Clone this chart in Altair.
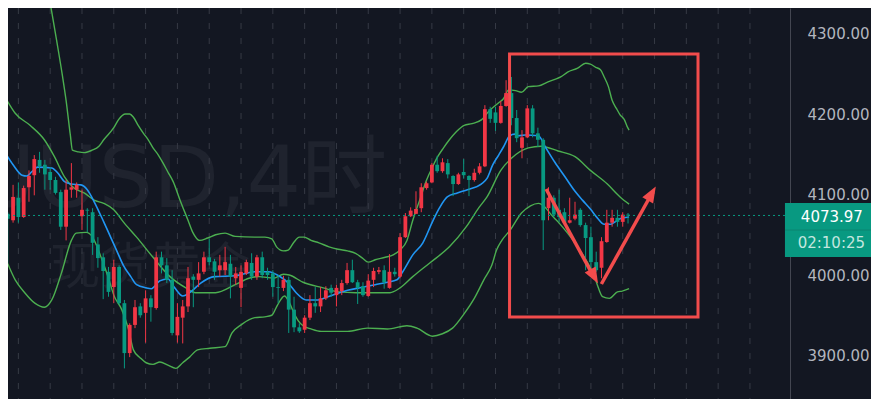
import altair as alt
import pandas as pd

# ---------------- data ----------------
opens = [4076,4068,4096,4072,4109,4124,4143,4137,4128,4118,
         4103,4060,4106,4106,4073,4081,4078,4038,4022,4004,
         3985,4010,3965,3903,3938,3961,3953,3971,3959,4022,
         4012,3994,3925,3947,3961,3998,3994,4004,4022,4017,
         4006,4006,4014,3996,3984,4002,4015,3998,4022,4004,
         4002,3985,3984,3994,3957,3935,3932,3947,3965,3961,
         3971,3984,3975,3980,3990,4006,3991,3986,3974,3994,
         4004,4006,3984,4004,3998,4047,4073,4076,4083,4108,
         4115,4137,4129,4139,4123,4113,4128,4123,4118,4127,
         4135,4206,4202,4189,4210,4226,4195,4158,4171,4207,
         4176,4168,4083,4096,4081,4078,4065,4070,4081,4062,
         4047,4016,4009,4041,4065,4071,4066,4075]
highs = [4078,4112,4115,4111,4130,4149,4153,4143,4134,4122,
         4106,4118,4139,4115,4106,4083,4083,4047,4027,4010,
         4019,4012,3969,3940,3969,3965,3981,3975,4029,4029,
         4021,4006,3965,3969,4010,4001,4016,4029,4045,4020,
         4025,4035,4025,4010,4012,4019,4027,4025,4029,4009,
         4006,4000,3999,3998,3973,3940,3950,3975,3985,3985,
         3986,3988,3988,3994,4015,4019,3994,3991,4001,4009,
         4010,4012,4026,4009,4052,4077,4084,4104,4114,4116,
         4139,4148,4145,4144,4124,4127,4144,4124,4132,4139,
         4211,4209,4209,4216,4242,4246,4205,4180,4211,4211,
         4183,4170,4109,4099,4106,4083,4096,4091,4083,4065,
         4060,4029,4047,4081,4081,4081,4078,4077]
lows = [4015,4065,4065,4071,4091,4099,4127,4106,4106,4100,
        4056,4043,4096,4096,4056,4053,4025,4009,3970,3973,
        3965,3963,3884,3898,3934,3947,3916,3942,3957,4002,
        3990,3925,3916,3915,3954,3960,3985,4001,4012,3994,
        3998,4000,3971,3988,3960,4000,3994,3994,3996,3994,
        3973,3965,3980,3928,3929,3928,3928,3944,3953,3954,
        3969,3973,3961,3975,3988,3990,3964,3973,3973,3985,
        4001,3983,3983,3998,3996,4046,4072,4076,4078,4106,
        4114,4127,4127,4120,4098,4112,4120,4098,4116,4125,
        4134,4189,4179,4188,4209,4186,4165,4145,4170,4171,
        4159,4031,4068,4072,4066,4062,4064,4068,4060,4006,
        4002,4004,3996,4040,4060,4060,4060,4064]
closes = [4070,4097,4072,4108,4123,4144,4135,4125,4118,4102,
          4060,4106,4109,4112,4081,4080,4040,4021,4005,3979,
          4010,3965,3903,3938,3960,3950,3971,3960,4022,4012,
          3994,3928,3948,3961,3996,3994,4002,4022,4016,4004,
          4012,4016,3998,4002,4004,4016,3998,4022,4000,4000,
          3985,3984,3994,3957,3935,3930,3947,3965,3961,3971,
          3981,3978,3984,3990,4006,3991,3984,3975,3993,4005,
          4006,3991,4004,4001,4047,4073,4080,4082,4109,4114,
          4137,4129,4140,4125,4113,4125,4124,4118,4127,4135,
          4206,4194,4189,4210,4226,4195,4170,4171,4207,4176,
          4168,4068,4096,4075,4072,4065,4068,4075,4062,4046,
          4016,4006,4042,4065,4071,4066,4075,4073.97]

# Bollinger bands (green) and moving average (blue): (bar index, price)
upper_i = [6.9,7.9,9.2,10.3,11.0,11.8,12.2,13.3,14.4,15.9,17.2,18.1,20.0,20.9,22.2,23.0,23.7,24.6,25.6,26.5,
           27.4,28.4,29.3,30.2,31.2,32.5,34.0,34.9,36.2,37.7,39.2,41.0,42.9,46.6,48.5,49.8,50.7,52.0,52.9,53.9,
           55.0,55.9,57.2,58.7,60.6,62.3,64.1,65.6,66.9,68.0,69.3,71.2,72.7,74.0,75.3,76.4,77.7,79.0,80.1,81.1,
           82.2,83.3,84.6,86.1,87.6,89.4,90.7,92.6,93.5,94.5,95.8,96.9,98.2,100.1,101.9,103.2,104.3,105.6,107.5,109.0,
           109.9,110.9,111.8,112.5,113.3,114.0,114.8,115.5,116.3,116.8,117.2]
upper_p = [4379,4342,4292,4248,4217,4174,4155,4153,4152,4155,4160,4168,4183,4193,4200,4200,4196,4186,4176,4168,
           4158,4149,4139,4128,4116,4093,4068,4053,4043,4046,4050,4052,4048,4047,4047,4045,4035,4030,4031,4040,
           4047,4047,4043,4040,4035,4032,4030,4027,4021,4016,4019,4022,4025,4031,4043,4068,4093,4118,4134,4147,
           4158,4168,4178,4186,4188,4193,4203,4214,4219,4230,4229,4227,4234,4235,4240,4243,4246,4252,4257,4263,
           4262,4258,4255,4246,4234,4217,4207,4199,4193,4185,4180]
mid_i = [-0.5,1.4,4.2,6.9,8.8,10.7,12.5,14.4,16.3,18.1,20.0,21.8,24.3,27.4,30.6,33.6,35.4,39.2,42.9,45.5,
         47.4,50.2,52.0,53.1,55.7,59.5,62.4,65.6,68.8,72.1,74.0,76.4,79.6,83.3,86.5,88.9,90.4,93.0,95.0,98.2,
         100.6,103.8,107.0,109.9,113.1,115.5,117.2]
mid_p = [4221,4201,4186,4168,4147,4122,4108,4102,4093,4089,4081,4066,4047,4022,3998,3984,3978,3978,3988,3996,
         3998,3996,4001,4000,3991,3984,3979,3978,3978,3978,3984,3998,4015,4035,4060,4084,4097,4130,4145,4158,
         4160,4154,4147,4130,4113,4097,4088]
low_i = [-0.5,1.4,3.2,5.1,6.9,8.3,10.1,12.0,12.9,14.8,15.9,17.6,19.1,20.0,21.5,22.8,23.7,25.0,26.1,27.4,
         28.7,30.2,31.7,33.0,34.3,35.8,38.1,41.0,42.3,44.2,46.6,48.5,49.8,50.9,52.2,53.1,53.9,54.8,55.7,57.2,
         59.1,64.1,67.8,71.6,75.3,77.2,80.1,82.0,83.9,86.1,88.0,89.8,91.3,92.2,93.2,94.8,96.9,98.6,100.1,101.4,
         102.5,103.8,105.6,107.5,109.4,110.7,111.2,112.2,113.5,115.0,115.9,117.2]
low_p = [4022,3994,3978,3965,3960,3969,4002,4043,4052,4053,4048,4022,3994,3975,3957,3932,3907,3897,3891,3889,
         3892,3888,3884,3891,3898,3907,3909,3911,3928,3939,3947,3948,3950,3963,3974,3966,3954,3943,3937,3933,
         3930,3930,3934,3933,3937,3934,3924,3927,3934,3952,3971,3994,4012,4031,4043,4056,4077,4086,4089,4084,
         4075,4066,4052,4035,4015,3998,3988,3973,3971,3979,3980,3983]
ma_i = [-0.5,1.0,2.7,3.6,4.5,5.6,8.3,9.4,10.7,12.0,13.8,15.0,16.3,18.1,19.4,20.5,21.8,23.2,24.3,26.1,
        27.1,28.7,30.2,31.5,33.0,34.5,36.4,39.0,42.9,46.6,49.2,51.1,52.9,54.4,56.3,58.5,60.4,64.1,67.1,69.3,
        71.6,73.4,74.5,76.4,78.3,80.1,81.4,82.9,84.8,86.7,89.3,90.4,91.5,92.6,93.5,94.7,95.6,96.3,97.6,100.1,
        101.4,103.2,105.1,107.0,108.4,109.9,111.2,112.5,113.6,115.5,117.2]
ma_p = [4152,4137,4124,4123,4128,4134,4133,4127,4116,4113,4112,4106,4091,4066,4047,4031,4012,3998,3988,3984,
        3983,3993,3995,3984,3974,3979,3990,3998,3999,4004,4004,3999,3990,3978,3969,3969,3973,3981,3985,3988,
        3991,3994,4004,4025,4040,4066,4083,4097,4102,4106,4113,4120,4137,4149,4159,4173,4175,4173,4174,4173,
        4159,4140,4122,4104,4093,4082,4071,4063,4063,4070,4072]

price_ticks = [3900, 4000, 4100, 4200, 4300]
grid_i = [2, 8, 14, 20, 26, 32, 38, 44, 50, 56, 62, 68, 74, 80, 86, 92, 98, 104,
          110, 116, 122, 128, 134, 140]

# annotations (bar index, price)
box_i = [94.65]; box_i2 = [130.2]; box_p = [3947.8]; box_p2 = [4274.5]
shaft_i = [101.55, 111.98]; shaft_p = [4106.8, 3988.8]
shaft_i2 = [109.93, 120.91]; shaft_p2 = [4005.0, 4094.4]
head_i = [110.52, 121.39]; head_p = [3999.1, 4100.4]; head_ang = [151, 30]

last_price = closes[-1]
timer_text = "02:10:25"
tag_i = [146.6]; tag_i2 = [163.2]; tag_top = [4089.4]; tag_bot = [4022.4]; tag_mid = [4055.9]
tag_text_i = [149.6, 149.0]; tag_text_p = [4072.4, 4039.4]

wm1 = "XAUUSD,4时"; wm1_i = [71.6]; wm1_p = [4084.5]
wm2 = "现货黄金"; wm2_i = [26.9]; wm2_p = [4007.5]

# ---------------- styles ----------------
BG = "#131722"
RED = "#f23645"
GREEN = "#089981"
BAND = "#4caf50"
BLUE = "#2196f3"
ANN = "#f24c4c"
WM = "#1f232e"

W, H = 782, 391
xs = alt.Scale(domain=[0.987, 146.61], nice=False, zero=False)
ys = alt.Scale(domain=[3845.96, 4331.7], nice=False, zero=False)

AX = alt.Axis(orient="right", values=price_ticks, format=".2f", ticks=False,
              tickSize=0, labelPadding=17, labelAlign="left", labelBaseline="middle",
              labelColor="#b2b5be", labelFont="DejaVu Sans", labelFontSize=15,
              domainColor="#434651", domainWidth=1, grid=False, labelFlush=False)

df = pd.DataFrame({"i": list(range(len(opens))), "open": opens, "high": highs,
                   "low": lows, "close": closes})
df["dir"] = ["up" if c >= o else "down" for o, c in zip(opens, closes)]
col = alt.Color("dir:N", scale=alt.Scale(domain=["up", "down"], range=[RED, GREEN]), legend=None)

def X(f="i"):
    return alt.X(f"{f}:Q", scale=xs, axis=None)

def Y(f="p"):
    return alt.Y(f"{f}:Q", scale=ys, title=None, axis=AX)

grid = alt.Chart(pd.DataFrame({"i": grid_i})).mark_rule(
    color="#363a45", strokeWidth=1, strokeDash=[6, 9], clip=True).encode(x=X())

wm_a = alt.Chart(pd.DataFrame({"i": wm1_i, "p": wm1_p, "t": [wm1]})).mark_text(
    align="right", baseline="alphabetic", fontSize=86, color=WM, clip=True,
    font="'DejaVu Sans', 'Noto Sans CJK SC'").encode(x=X(), y=Y(), text="t:N")
wm_b = alt.Chart(pd.DataFrame({"i": wm2_i, "p": wm2_p, "t": [wm2]})).mark_text(
    align="center", baseline="middle", fontSize=50, color=WM, clip=True,
    font="'Noto Sans CJK SC'").encode(x=X(), y=Y(), text="t:N")

def line(ii, pp, color, w):
    return alt.Chart(pd.DataFrame({"i": ii, "p": pp})).mark_line(
        color=color, strokeWidth=w, clip=True, interpolate="monotone").encode(
        x=X(), y=Y(), order="i:Q")

upper = line(upper_i, upper_p, BAND, 1.4)
middle = line(mid_i, mid_p, BAND, 1.4)
lower = line(low_i, low_p, BAND, 1.4)
ma = line(ma_i, ma_p, BLUE, 1.6)

wicks = alt.Chart(df).mark_rule(strokeWidth=1, clip=True).encode(
    x=X(), y=Y("low"), y2="high:Q", color=col)
bodies = alt.Chart(df).mark_bar(size=3.8, clip=True).encode(
    x=X(), y=Y("open"), y2="close:Q", color=col)

price_line = alt.Chart(pd.DataFrame({"p": [last_price]})).mark_rule(
    color=GREEN, strokeWidth=1, strokeDash=[2, 3]).encode(y=Y())

box = alt.Chart(pd.DataFrame({"a": box_i, "b": box_i2, "c": box_p, "d": box_p2})).mark_rect(
    fillOpacity=0, stroke=ANN, strokeWidth=3, clip=True).encode(
    x=X("a"), x2="b:Q", y=Y("c"), y2="d:Q")

shafts = alt.Chart(pd.DataFrame({"a": shaft_i, "b": shaft_i2, "c": shaft_p, "d": shaft_p2})).mark_rule(
    color=ANN, strokeWidth=3.5, clip=True).encode(x=X("a"), x2="b:Q", y=Y("c"), y2="d:Q")

heads = alt.Chart(pd.DataFrame({"i": head_i, "p": head_p, "ang": head_ang})).mark_point(
    shape="M0,-1L0.7,0.8L-0.7,0.8Z", filled=True, size=320, color=ANN, opacity=1, clip=True).encode(
    x=X(), y=Y(), angle=alt.Angle("ang:Q", scale=None))

tag = alt.Chart(pd.DataFrame({"a": tag_i, "b": tag_i2, "c": tag_bot, "d": tag_top})).mark_rect(
    color=GREEN).encode(x=X("a"), x2="b:Q", y=Y("c"), y2="d:Q")
tag_div = alt.Chart(pd.DataFrame({"a": tag_i, "b": tag_i2, "p": tag_mid})).mark_rule(
    color="#0b8470", strokeWidth=1).encode(x=X("a"), x2="b:Q", y=Y())
tag_txt = alt.Chart(pd.DataFrame({"i": tag_text_i, "p": tag_text_p,
                                  "t": [f"{last_price:.2f}", timer_text],
                                  "k": ["price", "timer"]})).mark_text(
    align="left", baseline="middle", font="DejaVu Sans", fontSize=15).encode(
    x=X(), y=Y(), text="t:N",
    color=alt.Color("k:N", scale=alt.Scale(domain=["price", "timer"], range=["#ffffff", "#c3e6df"]),
                    legend=None))

chart = alt.layer(
    wm_a, wm_b, grid, upper, middle, lower, ma, wicks, bodies,
    price_line, box, shafts, heads, tag, tag_div, tag_txt
).resolve_scale(color="independent").properties(
    width=W, height=H,
    autosize=alt.AutoSizeParams(type="none"),
    padding={"left": 0, "top": 0, "right": 81, "bottom": 0},
    background=BG,
).configure_view(stroke=None)

chart.save("out.html", embed_options={"renderer": "svg", "actions": False})
